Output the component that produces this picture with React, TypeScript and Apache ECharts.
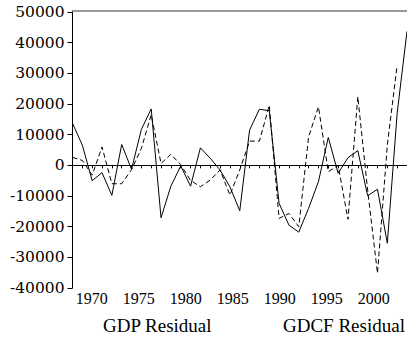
import React, { useEffect, useRef } from "react";
import * as echarts from "echarts";

const years = [
  "1968", "1969", "1970", "1971", "1972", "1973", "1974", "1975", "1976", "1977",
  "1978", "1979", "1980", "1981", "1982", "1983", "1984", "1985", "1986", "1987",
  "1988", "1989", "1990", "1991", "1992", "1993", "1994", "1995", "1996", "1997",
  "1998", "1999", "2000", "2001", "2002",
];

const gdpResidual = [
  13700, 6600, -5000, -2400, -9800, 6800, -1300, 11700, 18400, -17100,
  -6800, -200, -6800, 5700, 2300, -1500, -7000, -14800, 11500, 18300,
  17800, -12400, -19500, -21800, -14000, -5300, 9100, -2600, 2500, 4800,
  -9900, -7800, -25400, 17000, 43700,
];

const gdcfResidual: (number | null)[] = [
  2600, 1600, -3200, 6000, -6000, -6000, -1400, 5500, 16500, 600,
  3600, 200, -4900, -7000, -4800, -1500, -9700, -1500, 7900, 7900,
  19600, -17300, -15700, -20000, 9300, 19100, -2100, 0, -17600, 22400,
  -8100, -35200, 6600, 32700, null,
];

const yearTickLabels = [1970, 1975, 1980, 1985, 1990, 1995, 2000];
const seriesNames = ["GDP Residual", "GDCF Residual"];

export default function App() {
  const ref = useRef<HTMLDivElement>(null);

  useEffect(() => {
    if (!ref.current) return;
    const chart = echarts.init(ref.current, undefined, { renderer: "svg" });
    const gridBox = { left: 72.5, right: -1, top: 12, bottom: 49 };
    chart.setOption({
      animation: false,
      backgroundColor: "#ffffff",
      grid: [
        { ...gridBox, containLabel: false },
        { ...gridBox, containLabel: false },
      ],
      legend: [
        {
          data: [seriesNames[0]],
          left: 97,
          top: 316,
          itemWidth: 0,
          itemHeight: 0,
          padding: 0,
          textStyle: { fontFamily: "Liberation Serif", fontSize: 19, color: "#000" },
        },
        {
          data: [seriesNames[1]],
          left: 277,
          top: 316,
          itemWidth: 0,
          itemHeight: 0,
          padding: 0,
          textStyle: { fontFamily: "Liberation Serif", fontSize: 19, color: "#000" },
        },
      ],
      xAxis: [
        {
          type: "category",
          gridIndex: 0,
          data: years,
          boundaryGap: false,
          position: "bottom",
          axisLine: { show: true, lineStyle: { color: "#000", width: 1 } },
          axisTick: { show: true, interval: 0, length: 3, lineStyle: { color: "#000" } },
          axisLabel: { show: false },
          splitLine: { show: false },
        },
        {
          type: "value",
          gridIndex: 1,
          min: 1967.95,
          max: 2003.54,
          position: "bottom",
          axisLine: { show: false },
          axisTick: { show: false },
          splitLine: { show: false },
          axisLabel: {
            show: true,
            customValues: yearTickLabels,
            formatter: (v: number) => String(v),
            fontFamily: "Liberation Serif",
            fontSize: 16,
            color: "#000",
            margin: 2,
          },
        },
      ],
      yAxis: [
        {
          type: "value",
          gridIndex: 0,
          min: -40000,
          max: 50000,
          interval: 10000,
          axisLine: { show: true, lineStyle: { color: "#000", width: 1 } },
          axisTick: { show: true, length: 5, lineStyle: { color: "#000" } },
          splitLine: { show: false },
          axisLabel: {
            formatter: (v: number) => String(v),
            fontFamily: "DejaVu Serif",
            fontSize: 15.5,
            color: "#000",
            margin: 8,
          },
        },
        {
          type: "value",
          gridIndex: 1,
          min: -40000,
          max: 50000,
          show: false,
        },
      ],
      graphic: [
        {
          type: "line",
          shape: { x1: 72, y1: 11, x2: 407, y2: 11 },
          style: { stroke: "#777777", lineWidth: 1.5 },
          silent: true,
        },
      ],
      series: [
        {
          name: seriesNames[0],
          type: "line",
          xAxisIndex: 0,
          yAxisIndex: 0,
          data: gdpResidual,
          symbol: "none",
          lineStyle: { color: "#000", width: 1, type: "solid" },
          itemStyle: { color: "#000" },
        },
        {
          name: seriesNames[1],
          type: "line",
          xAxisIndex: 0,
          yAxisIndex: 0,
          data: gdcfResidual,
          symbol: "none",
          connectNulls: false,
          lineStyle: { color: "#000", width: 1, type: [5, 3] },
          itemStyle: { color: "#000" },
        },
      ],
    });
    return () => chart.dispose();
  }, []);

  return (
    <div
      ref={ref}
      style={{ position: "fixed", left: 0, top: 0, width: 407, height: 337 }}
    />
  );
}
